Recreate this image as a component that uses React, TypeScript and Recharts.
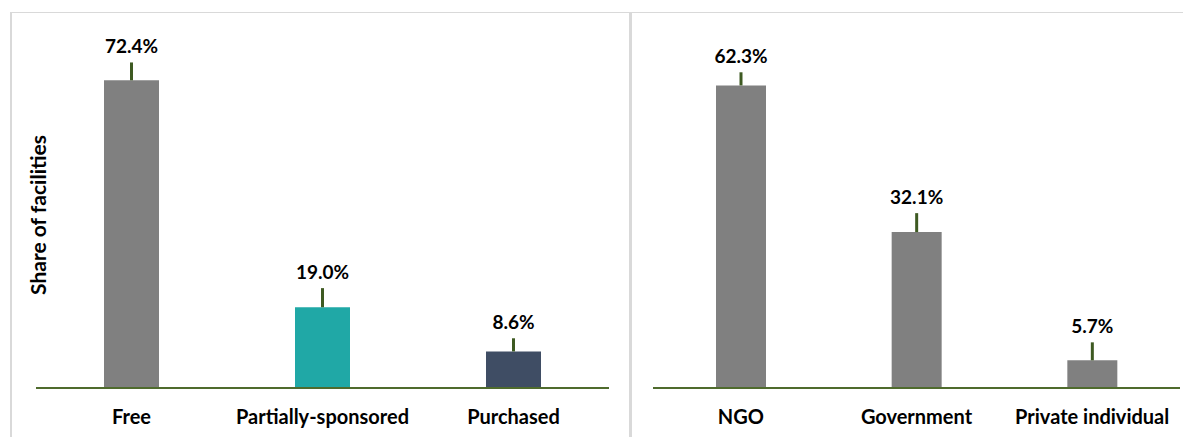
import React from 'react';
import { BarChart, Bar, XAxis, YAxis, ErrorBar, LabelList, Cell } from 'recharts';

const sourceCategories = ['Free', 'Partially-sponsored', 'Purchased'];
const sourceShares = [72.4, 19.0, 8.6];
const sourceErrors = [4.2, 4.5, 3.1];
const sourceColors = ['#808080', '#20A8A6', '#3F4D64'];

const ownerCategories = ['NGO', 'Government', 'Private individual'];
const ownerShares = [62.3, 32.1, 5.7];
const ownerErrors = [2.7, 3.9, 3.7];
const ownerColors = ['#808080', '#808080', '#808080'];

const yAxisTitle = 'Share of facilities';

const FONT = 'Lato, "Open Sans", sans-serif';
const GREEN = '#3E5A22';
const AXIS_GREEN = '#4F6B2D';

function build(cats: string[], vals: number[], errs: number[]) {
  return cats.map((c, i) => ({ name: c, value: vals[i], err: [0, errs[i]] }));
}

const sourceData = build(sourceCategories, sourceShares, sourceErrors);
const ownerData = build(ownerCategories, ownerShares, ownerErrors);

function makeLabel(errors: number[]) {
  return (props: any) => {
    const { x, y, width, height, value, index } = props;
    const v = Number(value);
    const errTop = y - (errors[index] * height) / v;
    return (
      <text
        x={x + width / 2}
        y={errTop - 9}
        textAnchor="middle"
        fontFamily={FONT}
        fontWeight={700}
        fontSize={19}
        fill="#000"
      >
        {v.toFixed(1)}%
      </text>
    );
  };
}

function Panel(props: {
  data: any[];
  errors: number[];
  colors: string[];
  max: number;
  width: number;
  left: number;
  right: number;
  barSize: number;
}) {
  const { data, errors, colors, max, width, left, right, barSize } = props;
  return (
    <BarChart
      width={width}
      height={437}
      data={data}
      margin={{ top: 48, right, bottom: 9, left }}
      barCategoryGap={0}
    >
      <XAxis
        dataKey="name"
        axisLine={{ stroke: AXIS_GREEN, strokeWidth: 2 }}
        tickLine={false}
        tickSize={0}
        tickMargin={22}
        height={40}
        interval={0}
        tick={{ fontFamily: FONT, fontWeight: 700, fontSize: 20, fill: '#000' }}
      />
      <YAxis domain={[0, max]} hide />
      <Bar dataKey="value" barSize={barSize} isAnimationActive={false}>
        {data.map((d, i) => (
          <Cell key={d.name} fill={colors[i]} />
        ))}
        <ErrorBar dataKey="err" width={0} stroke={GREEN} strokeWidth={3} direction="y" />
        <LabelList dataKey="value" content={makeLabel(errors)} />
      </Bar>
    </BarChart>
  );
}

export default function App() {
  return (
    <div style={{ position: 'absolute', left: 0, top: 0, width: 1183, height: 437, background: '#fff', overflow: 'hidden' }}>
      <div style={{ position: 'absolute', left: 10, top: 12, width: 1173, height: 425, borderLeft: '2px solid #D9D9D9', borderTop: '1px solid #D9D9D9', boxSizing: 'border-box' }} />
      <div style={{ position: 'absolute', left: 629, top: 12, width: 3, height: 425, background: '#D9D9D9' }} />
      <div style={{ position: 'absolute', left: 0, top: 0 }}>
        <Panel
          data={sourceData}
          errors={sourceErrors}
          colors={sourceColors}
          max={80}
          width={630}
          left={36}
          right={21}
          barSize={55}
        />
      </div>
      <svg style={{ position: 'absolute', left: 0, top: 0, pointerEvents: 'none' }} width={80} height={437}>
        <text
          x={37}
          y={215}
          transform="rotate(-90 37 215)"
          textAnchor="middle"
          dominantBaseline="central"
          fontFamily={FONT}
          fontWeight={700}
          fontSize={21}
          fill="#000"
        >
          {yAxisTitle}
        </text>
      </svg>
      <div style={{ position: 'absolute', left: 632, top: 0 }}>
        <Panel
          data={ownerData}
          errors={ownerErrors}
          colors={ownerColors}
          max={70}
          width={551}
          left={21}
          right={3}
          barSize={50}
        />
      </div>
    </div>
  );
}
